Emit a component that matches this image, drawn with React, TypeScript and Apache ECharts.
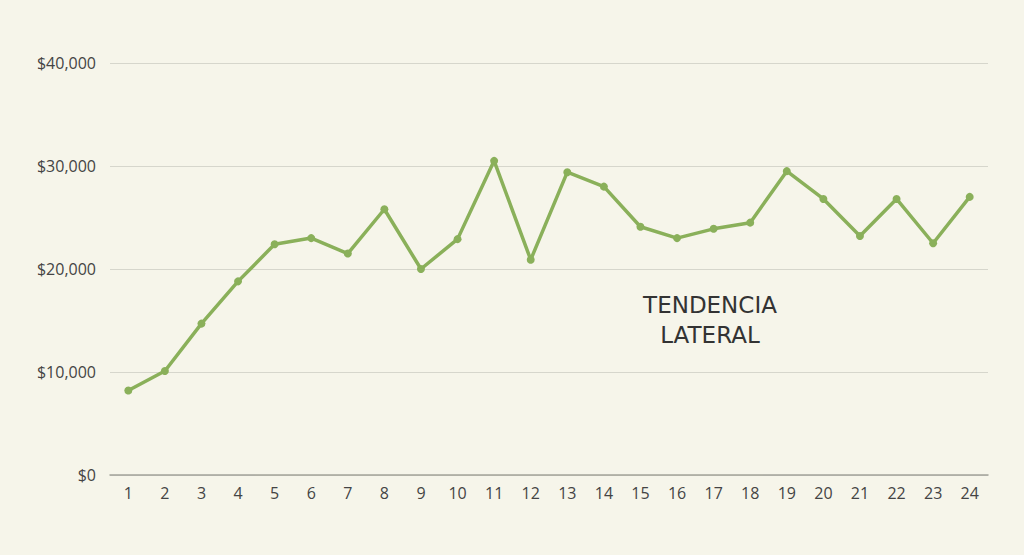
import React, { useEffect, useRef } from "react";
import * as echarts from "echarts";

const categories = ["1","2","3","4","5","6","7","8","9","10","11","12","13","14","15","16","17","18","19","20","21","22","23","24"];
const values = [8200, 10100, 14700, 18800, 22400, 23000, 21500, 25800, 20000, 22900, 30500, 20900, 29400, 28000, 24100, 23000, 23900, 24500, 29500, 26800, 23200, 26800, 22500, 27000];
const annotationLines = ["TENDENCIA", "LATERAL"];

export default function App() {
  const ref = useRef<HTMLDivElement>(null);
  useEffect(() => {
    if (!ref.current) return;
    const chart = echarts.init(ref.current, null, { renderer: "svg" });
    const font = "'Open Sans', 'Noto Sans', sans-serif";
    const annFont = "'DejaVu Sans', sans-serif";
    chart.setOption({
      animation: false,
      backgroundColor: "#f6f5ea",
      textStyle: { fontFamily: font },
      grid: { left: 110, right: 36, top: 63, bottom: 80, containLabel: false },
      xAxis: {
        type: "category",
        data: categories,
        boundaryGap: true,
        axisLine: { lineStyle: { color: "#a3a39a", width: 1.5 } },
        axisTick: { show: false },
        axisLabel: { color: "#444444", fontSize: 16, margin: 10, fontFamily: font },
      },
      yAxis: {
        type: "value",
        min: 0,
        max: 40000,
        interval: 10000,
        axisLine: { show: false },
        axisTick: { show: false },
        splitLine: { lineStyle: { color: "#d6d6cc", width: 1.2 } },
        axisLabel: {
          color: "#444444",
          fontSize: 16,
          margin: 14,
          fontFamily: font,
          formatter: (v: number) => "$" + v.toLocaleString("en-US"),
        },
      },
      series: [
        {
          type: "line",
          data: values,
          lineStyle: { color: "#8ab05a", width: 3.5 },
          itemStyle: { color: "#8ab05a" },
          symbol: "circle",
          symbolSize: 8,
        },
      ],
      graphic: annotationLines.map((t, i) => ({
        type: "text",
        x: 710,
        y: 305 + i * 30,
        style: {
          text: t,
          fill: "#333333",
          font: `23px ${annFont}`,
          align: "center",
          verticalAlign: "middle",
        },
      })),
    });
    return () => chart.dispose();
  }, []);
  return <div ref={ref} style={{ width: 1024, height: 555, position: "absolute", left: 0, top: 0 }} />;
}
